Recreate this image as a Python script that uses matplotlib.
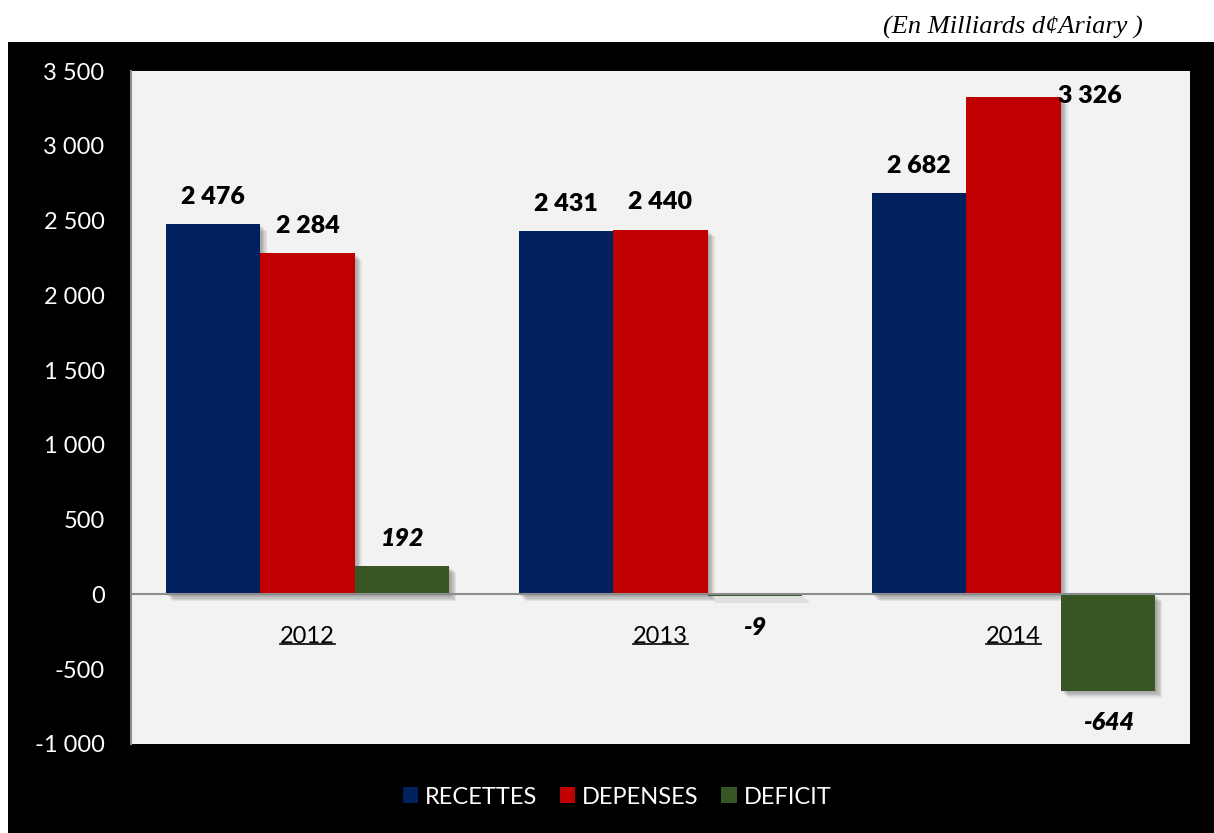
import matplotlib
matplotlib.use("Agg")
import matplotlib.pyplot as plt
import matplotlib.patheffects as pe
from matplotlib.patches import Rectangle, Patch
from matplotlib.lines import Line2D
import numpy as np

years = ["2012", "2013", "2014"]
recettes = [2476, 2431, 2682]
depenses = [2284, 2440, 3326]
deficit = [192, -9, -644]
series_names = ["RECETTES", "DEPENSES", "DEFICIT"]
colors = ["#002060", "#C00000", "#375623"]
yticks = [-1000, -500, 0, 500, 1000, 1500, 2000, 2500, 3000, 3500]

def fmt(v):
    s = f"{abs(v):,}".replace(",", " ")
    return ("-" if v < 0 else "") + s

plt.rcParams['font.family'] = ['Lato', 'DejaVu Sans']

fig = plt.figure(figsize=(12.14, 8.33), dpi=100)
fig.patch.set_facecolor("white")
fig.patches.append(Rectangle((8/1214, 0), 1 - 8/1214, 1 - 42/833,
                             transform=fig.transFigure, facecolor="black",
                             edgecolor="none", zorder=-5))

ax = fig.add_axes([131/1214, 1 - 744/833, (1190 - 131)/1214, 673/833])
ax.set_zorder(2)
ax.set_facecolor("#F2F2F2")

x = np.arange(len(years))
w = 0.268
shadow = [pe.SimplePatchShadow(offset=(d, -d), alpha=0.07, shadow_rgbFace="black")
          for d in (1, 2, 3, 4, 5)] + [pe.Normal()]
all_series = [recettes, depenses, deficit]
for k, (vals, c) in enumerate(zip(all_series, colors)):
    bars = ax.bar(x + (k - 1) * w, vals, width=w, color=c, zorder=3)
    for b in bars:
        b.set_path_effects(shadow)

ax.set_xlim(-0.5, 2.5)
ax.set_ylim(-1000, 3500)
ax.set_yticks(yticks)
ax.set_yticklabels([fmt(v) for v in yticks], color="white", fontsize=17)
ax.tick_params(axis="y", length=0, pad=19)
ax.set_xticks([])
for s in ["top", "right", "bottom"]:
    ax.spines[s].set_visible(False)
ax.spines["left"].set_color("#8C8C8C")
ax.spines["left"].set_linewidth(1.5)
ax.axhline(0, color="#8C8C8C", lw=1.5, zorder=4)

# value labels
for k, vals in enumerate(all_series):
    for i, v in enumerate(vals):
        xo, yo = 0, (19.6 if v >= 0 else -23.0)
        style = "italic" if k == 2 else "normal"
        if k == 1 and i == 2:
            xo, yo = 55, 1
        ax.annotate(fmt(v), (x[i] + (k - 1) * w, v), xytext=(xo, yo),
                    textcoords="offset points", ha="center", va="center",
                    fontsize=18, fontweight="heavy", fontstyle=style,
                    color="black", zorder=5)

# category labels (underlined)
cat_texts = []
for i, yr in enumerate(years):
    t = ax.annotate(yr, (x[i], 0), xytext=(0, -30.5), textcoords="offset points",
                    ha="center", va="center", fontsize=17, color="black", zorder=5)
    cat_texts.append(t)

fig.canvas.draw()
renderer = fig.canvas.get_renderer()
inv = ax.transAxes.inverted()
for t in cat_texts:
    bb = t.get_window_extent(renderer)
    (x0, y0), (x1, y1) = inv.transform([(bb.x0, bb.y0 + 3), (bb.x1, bb.y0 + 3)])
    ax.add_line(Line2D([x0, x1], [y0, y1], transform=ax.transAxes,
                       color="black", lw=1.2, zorder=6, clip_on=False))

handles = [Patch(facecolor=c, edgecolor="none") for c in colors]
leg = fig.legend(handles, series_names, loc="center", bbox_to_anchor=(617/1214, 1 - 797/833),
                 ncol=3, frameon=False, fontsize=17, handlelength=0.65, handleheight=0.65,
                 handletextpad=0.3, columnspacing=0.95)
for t in leg.get_texts():
    t.set_color("white")

fig.text(1143/1214, 1 - 27/833, "(En Milliards d¢Ariary )", ha="right", va="center",
         fontsize=19, fontstyle="italic", family=["Liberation Serif", "DejaVu Serif"],
         color="black")

fig.savefig("out.png", dpi=100, facecolor=fig.get_facecolor())
